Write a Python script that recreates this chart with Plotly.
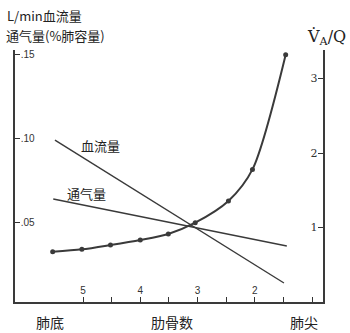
import plotly.graph_objects as go

# Rib number (x) — axis runs from lung base (left) to apex (right)
vq_ribs = [5.53, 5.02, 4.52, 4.00, 3.51, 3.04, 2.46, 2.04, 1.46]
vq_ratio = [0.675, 0.707, 0.765, 0.832, 0.913, 1.064, 1.356, 1.78, 3.32]

blood_ribs = [5.49, 1.49]
blood_flow = [0.0988, 0.0137]

vent_ribs = [5.52, 1.44]
ventilation = [0.0637, 0.0357]

left_tickvals = [0.05, 0.10, 0.15]
left_ticktext = [".05", ".10", ".15"]
right_tickvals = [1, 2, 3]
right_ticktext = ["1", "2", "3"]
x_tickvals = [5, 4, 3, 2]
x_ticktext = ["5", "4", "3", "2"]
x_minor_ticks = [4.5, 3.5, 2.5, 1.5, 1]

ink = "#3a3a3a"
cjk = "Noto Sans CJK SC"

fig = go.Figure()
fig.add_trace(go.Scatter(x=blood_ribs, y=blood_flow, mode="lines",
                         line=dict(color=ink, width=1.4), yaxis="y"))
fig.add_trace(go.Scatter(x=vent_ribs, y=ventilation, mode="lines",
                         line=dict(color=ink, width=1.4), yaxis="y"))
fig.add_trace(go.Scatter(x=vq_ribs, y=vq_ratio, mode="lines+markers",
                         line=dict(color=ink, width=2, shape="spline", smoothing=0.8),
                         marker=dict(color=ink, size=5), yaxis="y2"))

fig.update_layout(
    width=350, height=333,
    margin=dict(l=15, r=27, t=50, b=31),
    paper_bgcolor="white", plot_bgcolor="white",
    showlegend=False,
    xaxis=dict(range=[6.188, 0.808], showgrid=False, zeroline=False,
               showline=True, linecolor=ink, linewidth=1.5,
               tickvals=x_tickvals, ticktext=x_ticktext,
               ticks="inside", ticklen=5, tickwidth=1.4, tickcolor="#333333",
               minor=dict(tickvals=x_minor_ticks, ticks="inside", ticklen=5,
                          tickwidth=1.4, tickcolor="#333333", showgrid=False),
               ticklabelposition="inside", ticklabeloverflow="allow",
               tickfont=dict(family="Liberation Sans", size=10, color="#333")),
    yaxis=dict(range=[0.00238, 0.1524], showgrid=False, zeroline=False,
               showline=True, linecolor=ink, linewidth=1.5,
               tickvals=left_tickvals, ticktext=left_ticktext,
               ticks="inside", ticklen=5, tickwidth=1.4, tickcolor="#333333",
               ticklabelposition="inside", ticklabeloverflow="allow",
               tickfont=dict(family="Liberation Sans Narrow, Liberation Sans", size=10, color="#333")),
    yaxis2=dict(range=[0, 3.383], overlaying="y", side="right",
                showgrid=False, zeroline=False,
                showline=True, linecolor=ink, linewidth=1.5,
                tickvals=right_tickvals, ticktext=right_ticktext,
                ticks="inside", ticklen=5, tickwidth=1.4, tickcolor="#333333",
                ticklabelposition="inside", ticklabeloverflow="allow",
                tickfont=dict(family="DejaVu Serif", size=11, color="#333")),
)

def label(text, x, y, size=13, family=cjk, xanchor="center"):
    fig.add_annotation(text=text, x=x, y=y, xref="paper", yref="paper",
                       xanchor=xanchor, yanchor="middle", showarrow=False,
                       font=dict(family=family, size=size, color="#222"))

def px(xp, yp):
    # convert page pixels to paper coordinates
    return (xp - 15) / 308, (302 - yp) / 252

# Axis titles
x0, y0 = px(5, 15)
label("L/min血流量", x0, y0, size=13, xanchor="left")
x0, y0 = px(4, 36)
label("通气量(%肺容量)", x0, y0, size=13, xanchor="left")
x0, y0 = px(326, 38)
label("V\u0307<sub>A</sub>/Q", x0, y0, size=16, family="DejaVu Serif")

# Curve labels
x0, y0 = px(100, 145)
label("血流量", x0, y0, size=13)
x0, y0 = px(86, 193)
label("通气量", x0, y0, size=13)

# Bottom labels
x0, y0 = px(50, 322)
label("肺底", x0, y0, size=14)
x0, y0 = px(172, 322)
label("肋骨数", x0, y0, size=14)
x0, y0 = px(304, 322)
label("肺尖", x0, y0, size=14)

fig.write_html("out.html")
